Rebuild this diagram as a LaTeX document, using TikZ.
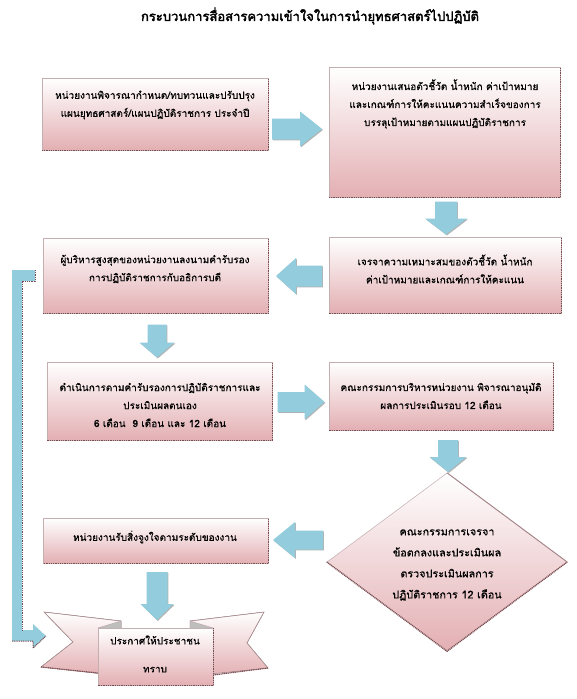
\documentclass[tikz,border=0pt]{standalone}
\usepackage{fontspec}
\newfontfamily\thai[Script=Thai]{Loma}
\newfontfamily\thaititle[Script=Thai,FakeBold=2.6]{Loma}
\newfontfamily\thaibox[Script=Thai,FakeBold=0.5]{Loma}
\usetikzlibrary{shapes.geometric,shadows}
\definecolor{arrowblue}{HTML}{93CDDD}
\definecolor{boxpink}{HTML}{E3AFB3}
\definecolor{boxedge}{HTML}{7A4B50}
\definecolor{foldgray}{HTML}{BEBEBE}
\tikzset{
 pbox/.style={draw=boxedge!45, line width=0.5pt, top color=white, bottom color=boxpink, inner sep=0pt},
 shadowline/.style={draw=boxedge, line width=1.4pt, dash pattern=on 1pt off 0.8pt},
 arrowfill/.style={fill=arrowblue, drop shadow={shadow xshift=0.9pt, shadow yshift=-0.9pt, fill=black!60}},
 txt/.style={font=\thaibox\fontsize{10}{18}\selectfont, align=center, inner sep=0pt},
 ribbon/.style={draw=boxedge!60, line width=0.5pt, top color=white, bottom color=boxpink},
}
% name, cx, cy, rotation, length, shaft, head width, head length
\newcommand\blockarr[8]{%
 \begin{scope}[shift={(#2,#3)}, rotate=#4]
 \pgfmathsetmacro\arA{#5/2}\pgfmathsetmacro\arB{#5/2-#8}%
 \pgfmathsetmacro\arS{#6/2}\pgfmathsetmacro\arH{#7/2}%
 \fill[arrowfill] (-\arA,-\arS) -- (\arB,-\arS) -- (\arB,-\arH) -- (\arA,0) -- (\arB,\arH) -- (\arB,\arS) -- (-\arA,\arS) -- cycle;
 \coordinate (#1) at (0,0);
 \end{scope}}
\begin{document}
\begin{tikzpicture}[x=1pt,y=-1pt]
\useasboundingbox (0,0) rectangle (576,699);
\fill[white] (0,0) rectangle (576,699);

% title
\node[font=\thaititle\fontsize{13}{16}\selectfont, inner sep=0pt] (title) at (310,16)
  {กระบวนการสื่อสารความเข้าใจในการนำยุทธศาสตร์ไปปฏิบัติ};

% boxes
\node[pbox, anchor=north west, minimum width=226pt, minimum height=72pt] (b1) at (42,78) {};
\node[pbox, anchor=north west, minimum width=231pt, minimum height=130pt] (b2) at (329,67) {};
\node[pbox, anchor=north west, minimum width=232pt, minimum height=76pt] (b3) at (329,237) {};
\node[pbox, anchor=north west, minimum width=225pt, minimum height=75pt] (b4) at (43,238) {};
\node[pbox, anchor=north west, minimum width=225pt, minimum height=78pt] (b5) at (47,362) {};
\node[pbox, anchor=north west, minimum width=224pt, minimum height=68pt] (b6) at (329,362) {};
\node[pbox, anchor=north west, minimum width=225pt, minimum height=45pt] (b7) at (43,518) {};
\node[diamond, pbox, minimum width=240pt, minimum height=178pt] (d1) at (447,562) {};

\foreach \b in {b1,b2,b3,b4,b5,b6,b7}{
  \draw[shadowline] ([yshift=-1pt]\b.north east) -- (\b.south east) -- (\b.south west);
}
\draw[shadowline] (d1.west) -- (d1.south) -- (d1.east);
\draw[boxedge!70, line width=0.8pt] (d1.north) -- (d1.east);

% texts
\node[txt] (t1) at (155,105) {หน่วยงานพิจารณากำหนด/ทบทวนและปรับปรุง\\แผนยุทธศาสตร์/แผนปฏิบัติราชการ ประจำปี};
\node[txt] (t2) at (445,104) {หน่วยงานเสนอตัวชี้วัด น้ำหนัก ค่าเป้าหมาย\\และเกณฑ์การให้คะแนนความสำเร็จของการ\\บรรลุเป้าหมายตามแผนปฏิบัติราชการ};
\node[txt] (t3) at (445,269) {เจรจาความเหมาะสมของตัวชี้วัด น้ำหนัก\\ค่าเป้าหมายและเกณฑ์การให้คะแนน};
\node[txt] (t4) at (155,269) {ผู้บริหารสูงสุดของหน่วยงานลงนามคำรับรอง\\การปฏิบัติราชการกับอธิการบดี};
\node[txt] (t5) at (160,405) {ดำเนินการตามคำรับรองการปฏิบัติราชการและ\\ประเมินผลตนเอง\\6 เดือน~~9 เดือน และ 12 เดือน};
\node[txt] (t6) at (441,396) {คณะกรรมการบริหารหน่วยงาน พิจารณาอนุมัติ\\ผลการประเมินรอบ 12 เดือน};
\node[txt, font=\thaibox\fontsize{10.8}{21}\selectfont] (t7) at (447,565) {คณะกรรมการเจรจา\\ข้อตกลงและประเมินผล\\ตรวจประเมินผลการ\\ปฏิบัติราชการ 12 เดือน};
\node[txt] (t8) at (155,537) {หน่วยงานรับสิ่งจูงใจตามระดับของงาน};

% block arrows
\blockarr{a1}{297}{129}{0}{50}{21}{35}{22}
\blockarr{a2}{446}{218}{-90}{33}{22}{42}{16}
\blockarr{a3}{299}{276}{180}{46}{21}{36}{20}
\blockarr{a4}{157}{341}{-90}{33}{19}{35}{15}
\blockarr{a5}{301}{402}{0}{47}{20}{35}{20}
\blockarr{a6}{448}{456}{-90}{32}{20}{37}{15}
\blockarr{a7}{298}{540}{180}{50}{19}{36}{22}
\blockarr{a8}{157}{596}{-90}{48}{21}{33}{16}

% ribbon (banner)
\fill[ribbon] (44,612) -- (121,621) -- (121,676) -- (41,667) -- (73,642) -- cycle;
\fill[ribbon] (264,612) -- (190,621) -- (190,676) -- (268,668) -- (247,643) -- cycle;
\draw[boxedge!60, line width=0.5pt] (44,612) -- (121,621) (41,667) -- (73,642) -- (44,612) (41,667) -- (98,673);
\draw[boxedge!60, line width=0.5pt] (264,612) -- (190,621) (268,668) -- (247,643) -- (264,612) (268,668) -- (213,675);
\filldraw[fill=foldgray, draw=boxedge!50, line width=0.4pt] (98,628) -- (121,621) -- (121,629) -- cycle;
\filldraw[fill=foldgray, draw=boxedge!50, line width=0.4pt] (213,628) -- (190,621) -- (190,629) -- cycle;
\node[pbox, anchor=north west, minimum width=115pt, minimum height=57pt] (bn) at (98,628) {};
\draw[shadowline] (bn.north east) -- (bn.south east) -- (bn.south west);
\draw[boxedge, line width=1.2pt, dash pattern=on 1pt off 0.8pt] (41,667) -- (98,673) (268,668) -- (213,675);
\node[txt, font=\thaibox\fontsize{10}{28}\selectfont] (t9) at (155,654) {ประกาศให้ประชาชน\\ทราบ};

% L-shaped return arrow from b4 to the banner
\coordinate (ltop) at (12,270);
\coordinate (ltip) at (46,636);
\fill[arrowblue] (ltop) -- (35,270) -- (35,281) -- (22,281) -- (22,630) -- (33,630)
  -- (33,624) -- (ltip) -- (33,648) -- (33,641) -- (12,641) -- cycle;
\draw[shadowline, line width=1pt] (35,270) -- (35,281) -- (22,281) -- (22,630);
\draw[shadowline, line width=1pt] (12,641) -- (33,641) -- (33,648) -- (ltip);
\end{tikzpicture}
\end{document}
